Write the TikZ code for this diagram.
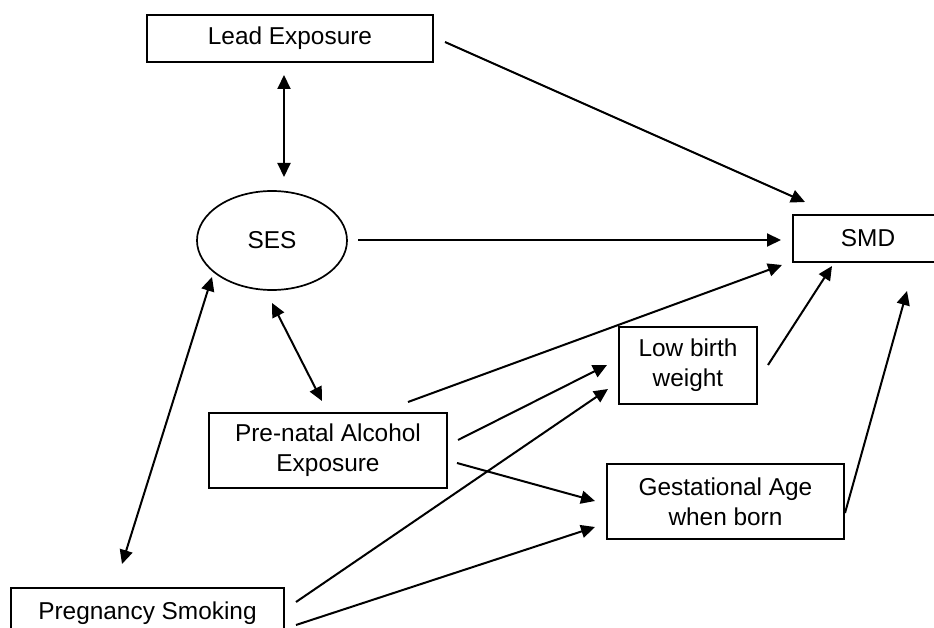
\documentclass[tikz,border=0pt]{standalone}
\usepackage{fontspec}
\setmainfont{Liberation Sans}
\usetikzlibrary{arrows.meta,shapes.geometric}
\begin{document}
\begin{tikzpicture}[x=1pt,y=-1pt,
  txt/.style={font=\fontsize{24.4}{30}\selectfont,align=center,inner sep=0pt},
  box/.style={txt,draw,line width=1.7pt,rectangle},
  oval/.style={txt,draw,line width=1.7pt,ellipse},
  tipA/.tip={Triangle[length=14pt,width=13pt]},
  conn/.style={line width=2pt,-tipA},
  both/.style={line width=2pt,tipA-tipA}]
\useasboundingbox (0,0) rectangle (934,628);
\fill[white] (0,0) rectangle (934,628);
% nodes
\node[box,minimum width=286pt,minimum height=47pt] (lead) at (290,38.5) {Lead Exposure};
\node[oval,minimum width=150pt,minimum height=99pt] (ses) at (272,240.5) {SES};
\node[box,minimum width=150pt,minimum height=47pt] (smd) at (868,238.5) {SMD};
\node[box,minimum width=138pt,minimum height=77pt] (lbw) at (688,365.5) {Low birth\\weight};
\node[box,minimum width=237pt,minimum height=75pt] (ga) at (725.5,501.5) {Gestational Age\\when born};
\node[box,minimum width=238pt,minimum height=75pt] (alc) at (328,450.5) {Pre-natal Alcohol\\Exposure};
\node[box,minimum width=273pt,minimum height=50pt] (smk) at (147.5,613) {Pregnancy Smoking};
% connector end points
\coordinate (leadB) at (284,75);
\coordinate (sesT) at (284,177);
\coordinate (leadR) at (445,42);
\coordinate (smdA) at (805,202);
\coordinate (sesR) at (358,240);
\coordinate (smdL) at (781,240);
\coordinate (sesB) at (272,303);
\coordinate (alcT) at (322,401);
\coordinate (sesBL) at (212,277);
\coordinate (smkT) at (122,564);
\coordinate (alcR1) at (408,402);
\coordinate (smdL2) at (782,265);
\coordinate (alcR2) at (458,440);
\coordinate (lbwL1) at (607,365);
\coordinate (alcR3) at (457,463);
\coordinate (gaL1) at (595,501);
\coordinate (smkR1) at (296,602);
\coordinate (lbwL2) at (608,389);
\coordinate (smkR2) at (296,625);
\coordinate (gaL2) at (595,527);
\coordinate (lbwR) at (768,365);
\coordinate (smdB1) at (832,266);
\coordinate (gaR) at (845,513);
\coordinate (smdB2) at (907,291);
% connectors
\draw[both] (leadB) -- (sesT);
\draw[conn] (leadR) -- (smdA);
\draw[conn] (sesR) -- (smdL);
\draw[both] (sesB) -- (alcT);
\draw[both] (sesBL) -- (smkT);
\draw[conn] (alcR1) -- (smdL2);
\draw[conn] (alcR2) -- (lbwL1);
\draw[conn] (alcR3) -- (gaL1);
\draw[conn] (smkR1) -- (lbwL2);
\draw[conn] (smkR2) -- (gaL2);
\draw[conn] (lbwR) -- (smdB1);
\draw[conn] (gaR) -- (smdB2);
\end{tikzpicture}
\end{document}
